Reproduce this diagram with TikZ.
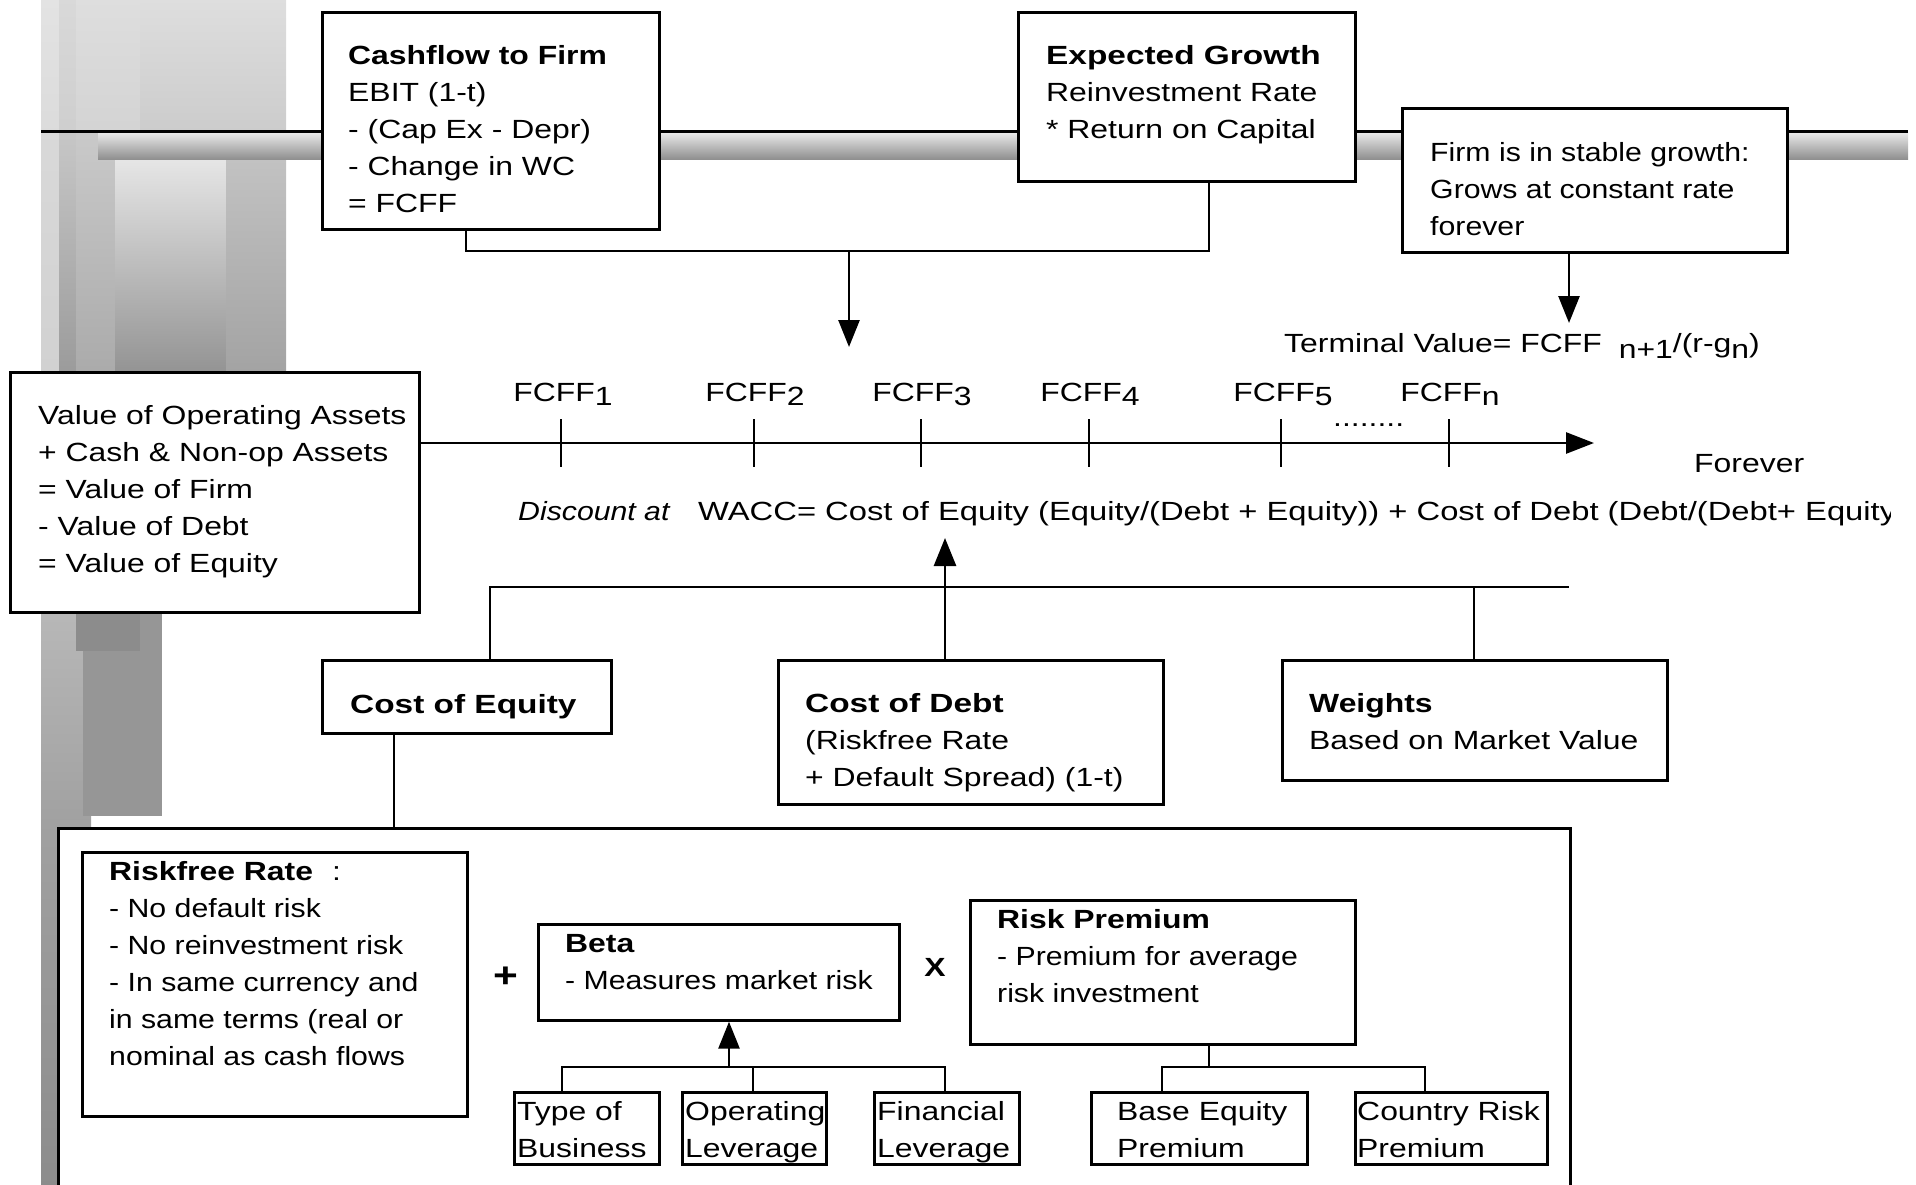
\documentclass[tikz,border=0pt]{standalone}
\usepackage{fontspec}
\setmainfont{Liberation Sans}[FakeStretch=1.213]
\newfontfamily\narrowfont{Liberation Sans}[FakeStretch=1.15]
\newfontfamily\widefont{Liberation Sans}[FakeStretch=1.27]
\newfontfamily\waccfont{Liberation Sans}[FakeStretch=1.245]
\usetikzlibrary{arrows.meta}
\newcommand{\normfont}{\fontsize{26.3pt}{37pt}\selectfont}
\newcommand{\firstl}{\rule{0pt}{24pt}}
\begin{document}
\begin{tikzpicture}[x=1pt,y=-1pt,
  box/.style={draw=black,line width=2.7pt,fill=white,inner sep=0pt,anchor=north west},
  txt/.style={anchor=north west,inner sep=0pt,align=left,font=\normfont},
  lbl/.style={anchor=base west,inner sep=0pt,font=\normfont},
  clbl/.style={anchor=base,inner sep=0pt,font=\normfont},
  ln/.style={line width=2.7pt},
  arr/.style={line width=2.7pt,-{Triangle[width=21pt,length=27pt]}},
  tickmark/.style={line width=2.7pt}]
\useasboundingbox (0,0) rectangle (1916,1185);
\clip (0,0) rectangle (1916,1185);
% ---- decorative gray column (upper part)
\shade[top color=black!11,bottom color=black!14] (41,0) rectangle (59,131);
\shade[top color=black!15,bottom color=black!19] (59,0) rectangle (76,131);
\shade[top color=black!13,bottom color=black!17] (76,0) rectangle (140,131);
\shade[top color=black!13,bottom color=black!20] (140,0) rectangle (286,131);
\shade[top color=black!15,bottom color=black!18] (41,131) rectangle (59,371);
\shade[top color=black!22,bottom color=black!39] (59,131) rectangle (76,371);
\shade[top color=black!21,bottom color=black!33] (76,131) rectangle (115,371);
\shade[top color=black!10,bottom color=black!42] (115,160) rectangle (226,371);
\shade[top color=black!24,bottom color=black!36] (226,160) rectangle (286,371);
% ---- decorative gray column (lower part)
\shade[top color=black!28,bottom color=black!37] (41,611) rectangle (91,826);
\fill[black!41] (83,611) rectangle (162,816);
\fill[black!45] (76,611) rectangle (140,651);
\shade[top color=black!37,bottom color=black!45] (41,826) rectangle (58,1185);
% ---- horizontal bar
\shade[top color=black!8,bottom color=black!45] (98,132) rectangle (1908,160);
\draw[line width=3pt] (41,132) -- (1908,132);

% ---- boxes
\node[box,minimum width=337pt,minimum height=217pt] (cf) at (321,11) {};
\node[box,minimum width=337pt,minimum height=169pt] (eg) at (1017,11) {};
\node[box,minimum width=385pt,minimum height=144pt] (sg) at (1401,107) {};
\node[box,minimum width=409pt,minimum height=240pt] (voa) at (9,371) {};
\node[box,minimum width=289pt,minimum height=73pt] (coe) at (321,659) {};
\node[box,minimum width=385pt,minimum height=144pt] (cod) at (777,659) {};
\node[box,minimum width=385pt,minimum height=120pt] (wts) at (1281,659) {};
\node[box,minimum width=1512pt,minimum height=420pt] (big) at (57,827) {};
\node[box,minimum width=385pt,minimum height=264pt] (rf) at (81,851) {};
\node[box,minimum width=361pt,minimum height=96pt] (beta) at (537,923) {};
\node[box,minimum width=385pt,minimum height=144pt] (rp) at (969,899) {};
\node[box,minimum width=145pt,minimum height=72pt] (tob) at (513,1091) {};
\node[box,minimum width=144pt,minimum height=72pt] (opl) at (681,1091) {};
\node[box,minimum width=145pt,minimum height=72pt] (fin) at (873,1091) {};
\node[box,minimum width=216pt,minimum height=72pt] (bep) at (1090,1091) {};
\node[box,minimum width=192pt,minimum height=72pt] (crp) at (1354,1091) {};

% ---- box texts
\node[txt] (cft) at (348,40) {\firstl\textbf{Cashflow to Firm}\\EBIT (1-t)\\- (Cap Ex - Depr)\\- Change in WC\\= FCFF};
\node[txt] (egt) at (1046,40) {\firstl{\widefont\bfseries Expected Growth}\\Reinvestment Rate\\* Return on Capital};
\node[txt] (sgt) at (1430,137) {\firstl\narrowfont Firm is in stable growth:\\\narrowfont Grows at constant rate\\\narrowfont forever};
\node[txt] (voat) at (38,400) {\firstl Value of Operating Assets\\+ Cash \& Non-op Assets\\= Value of Firm\\- Value of Debt\\= Value of Equity};
\node[txt] (coet) at (350,689) {\firstl{\widefont\bfseries Cost of Equity}};
\node[txt] (codt) at (805,688) {\firstl{\widefont\bfseries Cost of Debt}\\(Riskfree Rate\\+ Default Spread) (1-t)};
\node[txt] (wtst) at (1309,688) {\firstl\textbf{Weights}\\Based on Market Value};
\node[txt] (rft) at (109,856) {\firstl\textbf{Riskfree Rate}\hspace{19pt}:\\\narrowfont - No default risk\\\narrowfont - No reinvestment risk\\\narrowfont - In same currency and\\\narrowfont in same terms (real or\\\narrowfont nominal as cash flows};
\node[txt] (betat) at (565,928) {\firstl\textbf{Beta}\\\narrowfont - Measures market risk};
\node[txt] (rpt) at (997,904) {\firstl\textbf{Risk Premium}\\\narrowfont - Premium for average\\\narrowfont risk investment};
\node[txt] (tobt) at (517,1096) {\firstl Type of\\Business};
\node[txt] (oplt) at (685,1096) {\firstl Operating\\Leverage};
\node[txt] (fint) at (877,1096) {\firstl Financial\\Leverage};
\node[txt] (bept) at (1117,1096) {\firstl Base Equity\\Premium};
\node[txt] (crpt) at (1357,1096) {\firstl Country Risk\\Premium};

% ---- operators
\node[inner sep=0pt,font=\fontsize{35pt}{40pt}\selectfont\bfseries] (plus) at (506,977) {+};
\node[inner sep=0pt,font=\normfont\bfseries] (times) at (935,967) {X};

% ---- timeline
\coordinate (t3) at (1594,443);
\draw[arr,-{Triangle[width=21pt,length=28pt]}] (voa.east |- t3) -- (t3);
\foreach \x in {561,754,921,1089,1281,1449}{
  \draw[tickmark] (\x,419) -- (\x,467);
}
\node[clbl] (f1) at (563,401) {FCFF\raisebox{-4.5pt}{1}};
\node[clbl] (f2) at (755,401) {FCFF\raisebox{-4.5pt}{2}};
\node[clbl] (f3) at (922,401) {FCFF\raisebox{-4.5pt}{3}};
\node[clbl] (f4) at (1090,401) {FCFF\raisebox{-4.5pt}{4}};
\node[clbl] (f5) at (1283,401) {FCFF\raisebox{-4.5pt}{5}};
\node[clbl] (fn) at (1450,401) {FCFF\raisebox{-4.5pt}{n}};
\node[lbl] (dots) at (1333,426) {........};
\node[lbl] (forever) at (1694,472) {Forever};
\node[lbl] (tv) at (1284,352) {Terminal Value= FCFF\hspace{17pt}\raisebox{-6pt}{n+1}/(r-g\raisebox{-6pt}{n})};
\node[lbl] (disc) at (518,520) {\narrowfont\itshape Discount at};
\begin{scope}
  \clip (0,0) rectangle (1890,1185);
  \node[lbl] (wacc) at (698,520) {\waccfont WACC= Cost of Equity (Equity/(Debt + Equity)) + Cost of Debt (Debt/(Debt+ Equity))};
\end{scope}

% ---- connectors top
\coordinate (j1) at (466,251);
\coordinate (j2) at (1209,251);
\coordinate (j3) at (849,251);
\coordinate (t1) at (849,347);
\draw[ln] (cf.south -| j1) -- (j1) -- (j2) -- (eg.south -| j2);
\draw[arr] (j3) -- (t1);
\coordinate (t2) at (1569,323);
\draw[arr] (sg.south -| t2) -- (t2);

% ---- WACC bracket
\coordinate (b1) at (490,587);
\coordinate (b2) at (1569,587);
\coordinate (b3) at (1474,587);
\draw[ln] (coe.north -| b1) -- (b1) -- (b2);
\draw[ln] (b3) -- (wts.north -| b3);
\coordinate (t4) at (945,538);
\draw[arr,-{Triangle[width=22pt,length=28pt]}] (cod.north -| t4) -- (t4);

% ---- cost of equity to big box
\coordinate (c1) at (394,780);
\draw[ln] (coe.south -| c1) -- (big.north -| c1);

% ---- beta tree
\coordinate (h1) at (562,1067);
\coordinate (h2) at (945,1067);
\coordinate (h3) at (753,1067);
\coordinate (h4) at (729,1067);
\draw[ln] (tob.north -| h1) -- (h1) -- (h2) -- (fin.north -| h2);
\draw[ln] (h3) -- (opl.north -| h3);
\draw[arr] (h4) -- (beta.south -| h4);

% ---- risk premium tree
\coordinate (r1) at (1162,1067);
\coordinate (r2) at (1425,1067);
\coordinate (r3) at (1209,1067);
\draw[ln] (rp.south -| r3) -- (r3);
\draw[ln] (bep.north -| r1) -- (r1) -- (r2) -- (crp.north -| r2);
\end{tikzpicture}
\end{document}
